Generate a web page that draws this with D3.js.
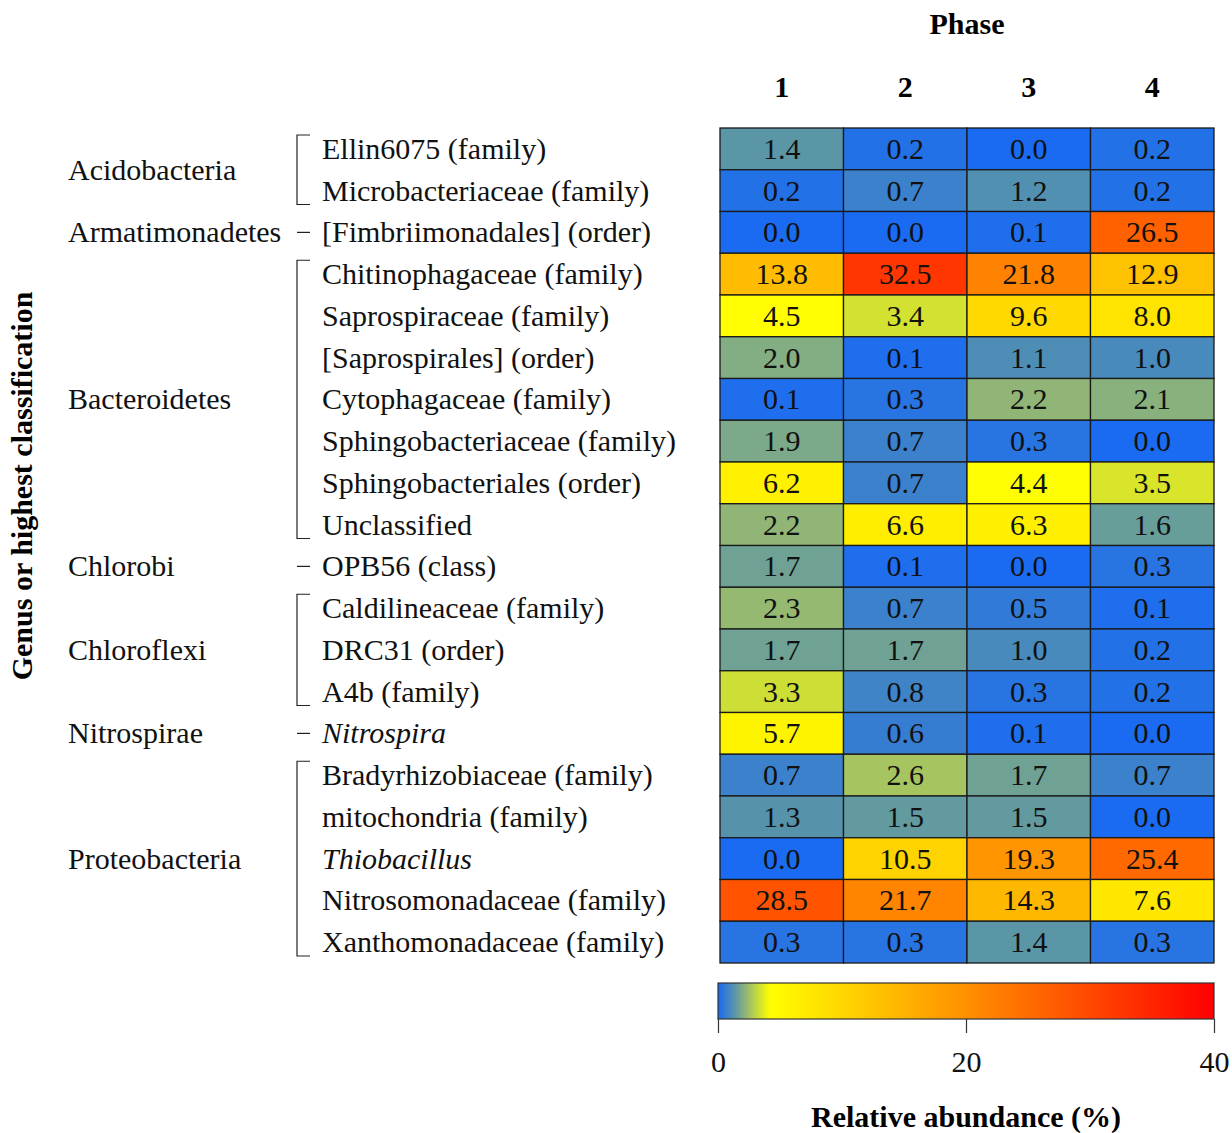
<!DOCTYPE html>
<html>
<head>
<meta charset="utf-8">
<script src="https://cdn.jsdelivr.net/npm/d3@7"></script>
<style>
  html, body { margin: 0; padding: 0; background: #fff; }
  svg { display: block; font-family: "Liberation Serif", "Times New Roman", serif; }
</style>
</head>
<body>
<svg id="chart" width="1232" height="1133"></svg>
<script>
// Phases (columns)
const phases = ["1", "2", "3", "4"];

// Taxa (rows), their phylum and whether the name is a genus (italic)
const taxa = [
  "Ellin6075 (family)", "Microbacteriaceae (family)", "[Fimbriimonadales] (order)",
  "Chitinophagaceae (family)", "Saprospiraceae (family)", "[Saprospirales] (order)",
  "Cytophagaceae (family)", "Sphingobacteriaceae (family)", "Sphingobacteriales (order)",
  "Unclassified", "OPB56 (class)", "Caldilineaceae (family)", "DRC31 (order)",
  "A4b (family)", "Nitrospira", "Bradyrhizobiaceae (family)", "mitochondria (family)",
  "Thiobacillus", "Nitrosomonadaceae (family)", "Xanthomonadaceae (family)"
];
const italicTaxa = ["Nitrospira", "Thiobacillus"];

// Phylum groups: name, first row index, last row index
const phyla = ["Acidobacteria", "Armatimonadetes", "Bacteroidetes", "Chlorobi", "Chloroflexi", "Nitrospirae", "Proteobacteria"];
const phylumFirst = [0, 2, 3, 10, 11, 14, 15];
const phylumLast  = [1, 2, 9, 10, 13, 14, 19];

// Relative abundance (%) per taxon, phases 1-4
const phase1 = [1.4, 0.2, 0.0, 13.8, 4.5, 2.0, 0.1, 1.9, 6.2, 2.2, 1.7, 2.3, 1.7, 3.3, 5.7, 0.7, 1.3, 0.0, 28.5, 0.3];
const phase2 = [0.2, 0.7, 0.0, 32.5, 3.4, 0.1, 0.3, 0.7, 0.7, 6.6, 0.1, 0.7, 1.7, 0.8, 0.6, 2.6, 1.5, 10.5, 21.7, 0.3];
const phase3 = [0.0, 1.2, 0.1, 21.8, 9.6, 1.1, 2.2, 0.3, 4.4, 6.3, 0.0, 0.5, 1.0, 0.3, 0.1, 1.7, 1.5, 19.3, 14.3, 1.4];
const phase4 = [0.2, 0.2, 26.5, 12.9, 8.0, 1.0, 2.1, 0.0, 3.5, 1.6, 0.3, 0.1, 0.2, 0.2, 0.0, 0.7, 0.0, 25.4, 7.6, 0.3];

// Colour bar ticks
const legendTicks = [0, 20, 40];

const seriesByPhase = [phase1, phase2, phase3, phase4];
const cells = [];
taxa.forEach((t, i) => phases.forEach((p, j) => cells.push({ taxon: t, phase: p, value: seriesByPhase[j][i] })));

const svg = d3.select("#chart");

// Layout
const heat = { left: 720, right: 1214, top: 128, bottom: 963 };
const x = d3.scaleBand().domain(phases).range([heat.left, heat.right]);
const y = d3.scaleBand().domain(taxa).range([heat.top, heat.bottom]);

// Blue -> grey-green -> yellow -> orange -> red
const color = d3.scaleLinear()
  .domain([0, 1.4, 2.2, 4.2, 20, 40])
  .range(["#1a6bf2", "#5b96a6", "#90b577", "#ffff00", "#ff9000", "#ff0000"])
  .clamp(true);

const fontSize = 30;

// Header
svg.append("text")
  .attr("x", (heat.left + heat.right) / 2).attr("y", 34)
  .attr("text-anchor", "middle").attr("font-weight", "bold")
  .attr("font-size", fontSize).text("Phase");

svg.append("g").selectAll("text").data(phases).join("text")
  .attr("x", d => x(d) + x.bandwidth() / 2).attr("y", 97)
  .attr("text-anchor", "middle").attr("font-weight", "bold")
  .attr("font-size", fontSize).text(d => d);

// Heatmap cells
const cellG = svg.append("g");
cellG.selectAll("rect").data(cells).join("rect")
  .attr("x", d => x(d.phase)).attr("y", d => y(d.taxon))
  .attr("width", x.bandwidth()).attr("height", y.bandwidth())
  .attr("fill", d => color(d.value))
  .attr("stroke", "#1a1a1a").attr("stroke-width", 1.3);

cellG.selectAll("text").data(cells).join("text")
  .attr("x", d => x(d.phase) + x.bandwidth() / 2)
  .attr("y", d => y(d.taxon) + y.bandwidth() / 2)
  .attr("dy", "0.33em").attr("text-anchor", "middle")
  .attr("font-size", fontSize).attr("fill", "#111")
  .text(d => d3.format(".1f")(d.value));

// Taxon labels
svg.append("g").selectAll("text").data(taxa).join("text")
  .attr("x", 322).attr("y", d => y(d) + y.bandwidth() / 2)
  .attr("dy", "0.33em").attr("font-size", fontSize).attr("fill", "#111")
  .attr("font-style", d => italicTaxa.includes(d) ? "italic" : "normal")
  .text(d => d);

// Phylum labels and brackets
const bx = 297, tick = 13;
const groups = phyla.map((name, k) => ({ name, a: phylumFirst[k], b: phylumLast[k] }));
const phG = svg.append("g");
groups.forEach(g => {
  const yTop = y(taxa[g.a]), yBot = y(taxa[g.b]) + y.bandwidth();
  const mid = (yTop + yBot) / 2;
  phG.append("text").attr("x", 68).attr("y", mid).attr("dy", "0.33em")
    .attr("font-size", fontSize).attr("fill", "#111").text(g.name);
  if (g.a === g.b) {
    phG.append("line").attr("x1", bx).attr("x2", bx + tick)
      .attr("y1", mid).attr("y2", mid)
      .attr("stroke", "#222").attr("stroke-width", 1.2);
  } else {
    const t = yTop + 7, b = yBot - 7;
    phG.append("path")
      .attr("d", `M${bx + tick},${t}H${bx}V${b}H${bx + tick}`)
      .attr("fill", "none").attr("stroke", "#222").attr("stroke-width", 1.2);
  }
});

// Y-axis title
svg.append("text")
  .attr("transform", "translate(32,486) rotate(-90)")
  .attr("text-anchor", "middle").attr("font-weight", "bold")
  .attr("font-size", fontSize).text("Genus or highest classification");

// Colour bar
const bar = { left: 718, right: 1214, top: 983, bottom: 1019 };
const lx = d3.scaleLinear().domain([legendTicks[0], legendTicks[legendTicks.length - 1]]).range([bar.left, bar.right]);
const grad = svg.append("defs").append("linearGradient").attr("id", "abundanceGrad")
  .attr("x1", "0%").attr("x2", "100%").attr("y1", "0%").attr("y2", "0%");
d3.range(0, 101).forEach(p => {
  grad.append("stop").attr("offset", p + "%").attr("stop-color", color(lx.invert(bar.left + (bar.right - bar.left) * p / 100)));
});
svg.append("rect")
  .attr("x", bar.left).attr("y", bar.top)
  .attr("width", bar.right - bar.left).attr("height", bar.bottom - bar.top)
  .attr("fill", "url(#abundanceGrad)").attr("stroke", "#333").attr("stroke-width", 1.2);

const axisG = svg.append("g").attr("transform", `translate(0,${bar.bottom})`)
  .call(d3.axisBottom(lx).tickValues(legendTicks).tickSize(14).tickPadding(18).tickFormat(d3.format("d")));
axisG.select(".domain").remove();
axisG.selectAll(".tick line").attr("stroke", "#333").attr("stroke-width", 1.2);
axisG.selectAll(".tick text").attr("font-size", fontSize).attr("fill", "#111")
  .attr("font-family", "Liberation Serif, Times New Roman, serif");

svg.append("text")
  .attr("x", (bar.left + bar.right) / 2).attr("y", 1127)
  .attr("text-anchor", "middle").attr("font-weight", "bold")
  .attr("font-size", fontSize).text("Relative abundance (%)");
</script>
</body>
</html>
